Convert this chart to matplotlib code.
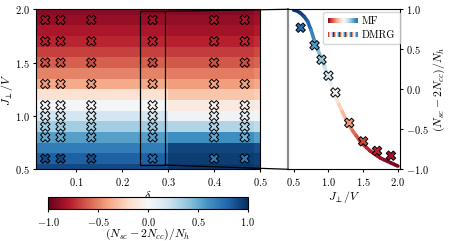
import numpy as np
import matplotlib
matplotlib.use("Agg")
import matplotlib.pyplot as plt
from matplotlib.collections import LineCollection
from matplotlib.colors import Normalize
from matplotlib.lines import Line2D
from matplotlib.legend_handler import HandlerBase, HandlerTuple
from matplotlib.patches import Rectangle, ConnectionPatch

plt.rcParams['font.family'] = 'serif'
plt.rcParams['font.serif'] = ['cmr10']
plt.rcParams['mathtext.fontset'] = 'cm'
plt.rcParams['axes.formatter.use_mathtext'] = True
plt.rcParams['font.size'] = 7.5

# heatmap (mean field), rows are J_perp/V, columns are blocks in delta
J_rows = [0.5, 0.6, 0.7, 0.8, 0.9, 1.0, 1.1, 1.2, 1.3, 1.4, 1.5, 1.6, 1.7, 1.8, 1.9, 2.0]
delta_edges = [0.0133, 0.3, 0.487, 0.5]
mf_low_delta = [0.9, 0.82, 0.7, 0.55, 0.35, 0.18, 0.02, -0.15, -0.38, -0.5,
                -0.6, -0.68, -0.76, -0.82, -0.87, -0.9]
mf_high_delta = [0.97, 0.95, 0.92, 0.62, 0.3, 0.04, -0.1, -0.28, -0.42, -0.52,
                 -0.62, -0.7, -0.78, -0.84, -0.88, -0.92]
mf_edge = [0.95, 0.93, 0.88, 0.55, 0.25, 0.03, -0.08, -0.25, -0.38, -0.48,
           -0.58, -0.66, -0.74, -0.8, -0.85, -0.88]

# DMRG points
dmrg_delta = [1/30, 1/15, 2/15, 4/15, 6/15, 7/15]
dmrg_J = [0.6, 0.8, 0.9, 1.0, 1.1, 1.3, 1.5, 1.7, 1.9]
dmrg_vals = [
    [0.9, 0.9, 0.88, 0.77, 0.72, 0.72],
    [0.5, 0.5, 0.52, 0.55, 0.5, 0.48],
    [0.35, 0.35, 0.35, 0.37, 0.3, 0.3],
    [0.15, 0.15, 0.15, 0.17, 0.1, 0.1],
    [0.0, 0.0, 0.0, -0.04, -0.05, -0.05],
    [-0.42, -0.42, -0.42, -0.42, -0.4, -0.4],
    [-0.64, -0.64, -0.65, -0.65, -0.64, -0.64],
    [-0.78, -0.78, -0.77, -0.77, -0.76, -0.76],
    [-0.84, -0.84, -0.84, -0.83, -0.82, -0.82],
]
cut_col = 3  # delta = 4/15 shown in the right panel

# mean field curve at the cut
mf_J = [0.5, 0.55, 0.6, 0.65, 0.7, 0.75, 0.8, 0.85, 0.9, 0.95, 1.0, 1.05, 1.1,
        1.15, 1.2, 1.25, 1.3, 1.35, 1.4, 1.45, 1.5, 1.55, 1.6, 1.65, 1.7,
        1.75, 1.8, 1.85, 1.9, 1.95, 2.0]
mf_curve = [0.99, 0.98, 0.95, 0.91, 0.85, 0.74, 0.6, 0.49, 0.38, 0.27, 0.15,
            0.03, -0.09, -0.19, -0.28, -0.37, -0.45, -0.52, -0.58, -0.64,
            -0.69, -0.73, -0.77, -0.8, -0.83, -0.86, -0.88, -0.9, -0.92,
            -0.94, -0.96]

legend_marker_vals = [0.77, 0.55, 0.17, -0.42, -0.77]

cmap = plt.get_cmap('RdBu')
norm = Normalize(-1, 1)
lbl = r'$(N_{sc}-2N_{cc})/N_h$'

fig = plt.figure(figsize=(4.49, 2.41), dpi=100)
ax1 = fig.add_axes([0.0802, 0.2975, 0.499, 0.664])
ax2 = fig.add_axes([0.6425, 0.2975, 0.2483, 0.664])
cax = fig.add_axes([0.107, 0.1315, 0.445, 0.049])

J_arr = np.array(J_rows)
J_edges = np.concatenate([J_arr - 0.05, [J_arr[-1] + 0.05]])
Z = np.column_stack([mf_low_delta, mf_high_delta, mf_edge])
mesh = ax1.pcolormesh(delta_edges, J_edges, Z, cmap=cmap, norm=norm)

dd, jj = np.meshgrid(dmrg_delta, dmrg_J)
ax1.scatter(dd.ravel(), jj.ravel(), c=np.array(dmrg_vals).ravel(), cmap=cmap,
            norm=norm, marker='X', s=46, edgecolors='k', linewidths=0.7, zorder=3)
ax1.set_xlim(0.0133, 0.5)
ax1.set_ylim(0.5, 2.0)
ax1.set_xticks([0.1, 0.2, 0.3, 0.4, 0.5])
ax1.set_yticks([0.5, 1.0, 1.5, 2.0])
ax1.set_xlabel(r'$\delta$', fontsize=8.5, labelpad=1)
ax1.set_ylabel(r'$J_\perp/V$', fontsize=8.5)
ax1.yaxis.set_label_coords(-0.095, 0.5)
ax1.tick_params(length=2.5, pad=2)

rect = Rectangle((0.24, 0.54), 0.053, 1.44, fill=False, ec='k', lw=0.9, zorder=4)
ax1.add_patch(rect)

# right panel
pts = np.column_stack([mf_J, mf_curve]).reshape(-1, 1, 2)
segs = np.concatenate([pts[:-1], pts[1:]], axis=1)
lc = LineCollection(segs, cmap=cmap, norm=norm, linewidth=2.6, capstyle='round')
lc.set_array((np.array(mf_curve[:-1]) + np.array(mf_curve[1:])) / 2)
ax2.add_collection(lc)
cut_vals = [row[cut_col] for row in dmrg_vals]
ax2.scatter(dmrg_J, cut_vals, c=cut_vals, cmap=cmap, norm=norm, marker='X',
            s=46, edgecolors='k', linewidths=0.7, zorder=3)
ax2.set_xlim(0.425, 2.03)
ax2.set_ylim(-1, 1)
ax2.set_xticks([0.5, 1.0, 1.5, 2.0])
ax2.set_yticks([-1.0, -0.5, 0.0, 0.5, 1.0])
ax2.yaxis.tick_right()
ax2.yaxis.set_label_position('right')
ax2.set_xlabel(r'$J_\perp/V$', fontsize=8.5, labelpad=1)
ax2.set_ylabel(lbl, fontsize=8.5, labelpad=2)
ax2.tick_params(length=2.5, pad=2)
ax2.spines['left'].set_color('0.55')
ax2.spines['left'].set_linewidth(1.6)


class HandlerGrad(HandlerBase):
    def create_artists(self, legend, orig_handle, xdescent, ydescent, width,
                       height, fontsize, trans):
        n = 30
        xs = np.linspace(-xdescent, width - xdescent, n + 1)
        y = height / 2 - ydescent
        s = [[(xs[i], y), (xs[i + 1], y)] for i in range(n)]
        l = LineCollection(s, cmap=cmap, norm=norm, linewidth=2.4,
                           capstyle='butt', antialiased=False, transform=trans)
        l.set_array(np.linspace(-0.9, 0.7, n))
        return [l]


mf_handle = Line2D([], [])
dm_handle = tuple(Line2D([], [], marker='X', ls='none', markersize=6.2,
                         markerfacecolor=cmap(norm(v)), markeredgecolor='k',
                         markeredgewidth=0.5) for v in legend_marker_vals)
ax2.legend([mf_handle, dm_handle], ['MF', 'DMRG'],
           handler_map={Line2D: HandlerGrad(), tuple: HandlerTuple(ndivide=None, pad=0)},
           loc='upper right', bbox_to_anchor=(1.0, 0.985), borderaxespad=0,
           handlelength=2.8, fontsize=7.5, handletextpad=0.5, borderpad=0.45,
           labelspacing=0.4)

for xyA, xyB in [((0.293, 1.98), (0, 1)), ((0.293, 0.54), (0, 0))]:
    con = ConnectionPatch(xyA=xyA, coordsA='data', axesA=ax1,
                          xyB=xyB, coordsB='axes fraction', axesB=ax2,
                          color='k', lw=0.9)
    fig.add_artist(con)

cb = fig.colorbar(mesh, cax=cax, orientation='horizontal')
cb.set_ticks([-1.0, -0.5, 0.0, 0.5, 1.0])
cb.set_label(lbl, fontsize=8.5)
cax.xaxis.set_label_coords(0.5, -1.45)
cax.tick_params(length=2.5, pad=2)

fig.savefig('out.png', dpi=100)
